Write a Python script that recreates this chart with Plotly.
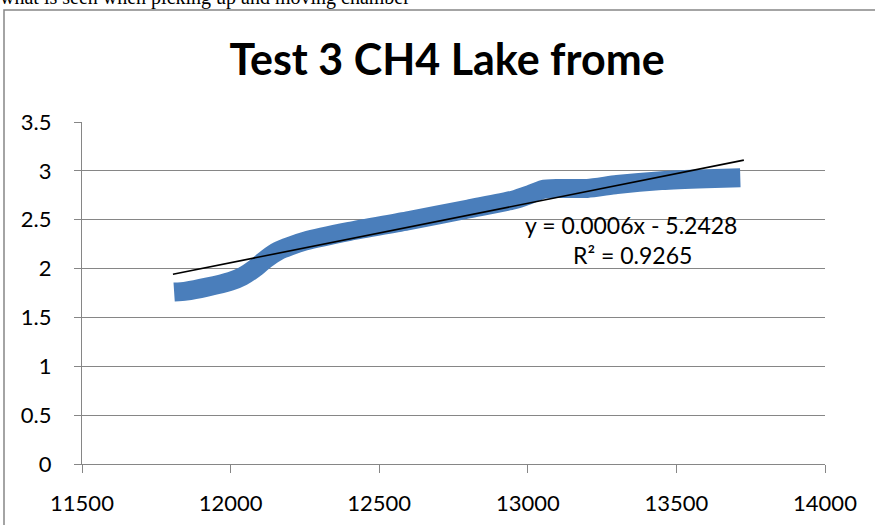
import plotly.graph_objects as go

# ---- data ----
time_s = [11810, 11850, 11920, 12000, 12040, 12080, 12120, 12160, 12200, 12250, 12400,
          12600, 12800, 12950, 13000, 13050, 13100, 13200, 13300, 13450, 13600, 13715]
ch4 = [1.76, 1.77, 1.81, 1.87, 1.92, 2.00, 2.10, 2.18, 2.23, 2.28, 2.38,
       2.49, 2.61, 2.70, 2.75, 2.81, 2.82, 2.82, 2.86, 2.90, 2.92, 2.93]
trend_x = [11806, 13727]
trend_y = [1.942, 3.11]

x_ticks = [11500, 12000, 12500, 13000, 13500, 14000]
x_tick_text = ["11500", "12000", "12500", "13000", "13500", "14000"]
y_ticks = [0, 0.5, 1, 1.5, 2, 2.5, 3, 3.5]
y_tick_text = ["0", "0.5", "1", "1.5", "2", "2.5", "3", "3.5"]

title_text = "Test 3 CH4 Lake frome"
equation_text = "y = 0.0006x - 5.2428"
r2_text = "R² = 0.9265"
caption_text = "what is seen when picking up and moving chamber"

# ---- layout geometry (pixels) ----
W, H = 875, 525
L, R, T, B = 82, 825, 122, 464

def px(xp):
    return (xp - L) / (R - L)

def py(yp):
    return (B - yp) / (B - T)

GRID = "#868686"
FONT = "Lato"

fig = go.Figure()
fig.add_trace(go.Scatter(
    x=time_s, y=ch4, mode="lines",
    line=dict(color="#4A7EBB", width=19, shape="spline", smoothing=0.6),
    hoverinfo="skip", showlegend=False,
))
fig.add_trace(go.Scatter(
    x=trend_x, y=trend_y, mode="lines",
    line=dict(color="black", width=1.6),
    hoverinfo="skip", showlegend=False,
))

fig.update_layout(
    width=W, height=H,
    margin=dict(l=L, r=W - R, t=T, b=H - B, autoexpand=False),
    paper_bgcolor="white", plot_bgcolor="white",
    showlegend=False,
    font=dict(family=FONT, color="black", size=22),
    title=dict(
        text=title_text,
        font=dict(family=FONT, size=43, color="black", weight="bold"),
        x=px(447), xref="paper", xanchor="center",
        y=1 - 60 / H, yref="container", yanchor="middle",
    ),
    xaxis=dict(
        range=[11500, 14000], tickvals=x_ticks, ticktext=x_tick_text,
        showgrid=False, zeroline=False,
        showline=True, linecolor=GRID, linewidth=1.3,
        ticks="outside", ticklen=8, tickcolor=GRID, tickwidth=1.3,
        ticklabelstandoff=11,
        tickfont=dict(family=FONT, size=22, color="black"),
    ),
    yaxis=dict(
        range=[0, 3.5], tickvals=y_ticks, ticktext=y_tick_text,
        showgrid=True, gridcolor=GRID, gridwidth=1.3,
        zeroline=False,
        showline=True, linecolor=GRID, linewidth=1.3,
        ticks="outside", ticklen=7, tickcolor=GRID, tickwidth=1.3,
        ticklabelstandoff=18,
        tickfont=dict(family=FONT, size=22, color="black"),
    ),
)

# equation annotations
fig.add_annotation(text=equation_text, xref="paper", yref="paper",
                   x=px(631), y=py(225), xanchor="center", yanchor="middle",
                   showarrow=False, font=dict(family=FONT, size=23, color="black"))
fig.add_annotation(text=r2_text, xref="paper", yref="paper",
                   x=px(632), y=py(255), xanchor="center", yanchor="middle",
                   showarrow=False, font=dict(family=FONT, size=23, color="black"))

# cut-off caption from the surrounding document
fig.add_annotation(text=caption_text, xref="paper", yref="paper",
                   x=px(-2), y=py(-2), xanchor="left", yanchor="middle",
                   showarrow=False,
                   font=dict(family="Liberation Serif", size=20, color="black"))

# chart-area border (clipped by the page on the right and bottom)
fig.add_shape(type="rect", xref="paper", yref="paper",
              x0=px(4), x1=px(W + 10), y0=py(H + 10), y1=py(10),
              line=dict(color=GRID, width=1.5), fillcolor="rgba(0,0,0,0)",
              layer="below")

fig.write_html("out.html",
               config={"displayModeBar": False},
               post_script="document.body.style.margin='0';document.body.style.overflow='hidden';")
